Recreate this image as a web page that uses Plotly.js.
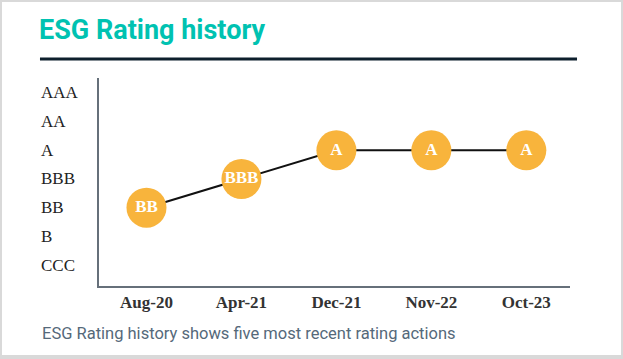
<!DOCTYPE html>
<html>
<head>
<meta charset="utf-8">
<script src="https://cdn.plot.ly/plotly-3.0.1.min.js"></script>
<style>
  html, body { margin: 0; padding: 0; background: #ffffff; }
  #wrap { position: relative; width: 623px; height: 359px; overflow: hidden; }
  #card { position: absolute; left: 0; top: 0; width: 619px; height: 353px; border: 2px solid #d9d9d9; border-bottom-width: 4px; box-sizing: content-box; pointer-events: none; }
  #chart { position: absolute; left: 0; top: 0; width: 623px; height: 359px; }
</style>
</head>
<body>
<div id="wrap">
  <div id="chart"></div>
  <div id="card"></div>
</div>
<script>
// Data
const dates = ["Aug-20", "Apr-21", "Dec-21", "Nov-22", "Oct-23"];
const ratings = ["BB", "BBB", "A", "A", "A"];
const ratingScale = ["CCC", "B", "BB", "BBB", "A", "AA", "AAA"];
const titleText = "ESG Rating history";
const captionText = "ESG Rating history shows five most recent rating actions";

const trace = {
  x: dates,
  y: ratings,
  type: "scatter",
  mode: "lines+markers+text",
  text: ratings,
  textposition: "middle center",
  textfont: { family: "Liberation Serif, serif", size: 17, color: "#ffffff", weight: "bold" },
  line: { color: "#111111", width: 2 },
  marker: { size: 40, color: "#f8b43c", line: { width: 0 } },
  hoverinfo: "skip",
  cliponaxis: false
};

const yLabelAnn = ratingScale.map(r => ({
  text: r,
  xref: "paper", yref: "y",
  x: -0.1274, y: r,
  xanchor: "left", yanchor: "middle",
  showarrow: false,
  font: { family: "Liberation Serif, serif", size: 17, color: "#222222" }
}));

const layout = {
  width: 623, height: 359,
  margin: { l: 99, r: 53, t: 78, b: 73 },
  paper_bgcolor: "#ffffff",
  plot_bgcolor: "#ffffff",
  showlegend: false,
  title: {
    text: "<b>" + titleText + "</b>",
    xref: "container", yref: "container",
    x: 39 / 623, xanchor: "left",
    y: 1 - 30 / 359, yanchor: "middle",
    font: { family: "Roboto, sans-serif", size: 27, color: "#00c2b1" }
  },
  xaxis: {
    type: "category",
    categoryarray: dates,
    range: [-0.5, 4.46],
    showline: true, linecolor: "#66707a", linewidth: 2,
    showgrid: false, zeroline: false,
    ticks: "", ticklen: 0,
    tickfont: { family: "Liberation Serif, serif", size: 17, color: "#333333", weight: "bold" },
    fixedrange: true
  },
  yaxis: {
    type: "category",
    categoryorder: "array",
    categoryarray: ratingScale,
    range: [-0.73, 6.52],
    showline: true, linecolor: "#66707a", linewidth: 2,
    showgrid: false, zeroline: false,
    showticklabels: false, ticks: "",
    fixedrange: true
  },
  shapes: [{
    type: "line", xref: "paper", yref: "paper",
    x0: -0.1253, x1: 1.0149, y0: 1.0913, y1: 1.0913,
    line: { color: "#0d1f2d", width: 3 }
  }],
  annotations: yLabelAnn.concat([{
    text: captionText,
    xref: "paper", yref: "paper",
    x: -0.1253, y: -0.226,
    xanchor: "left", yanchor: "middle",
    showarrow: false,
    font: { family: "Roboto, sans-serif", size: 16.5, color: "#55697a" }
  }])
};

Plotly.newPlot("chart", [trace], layout, { displayModeBar: false, staticPlot: true });
</script>
</body>
</html>
